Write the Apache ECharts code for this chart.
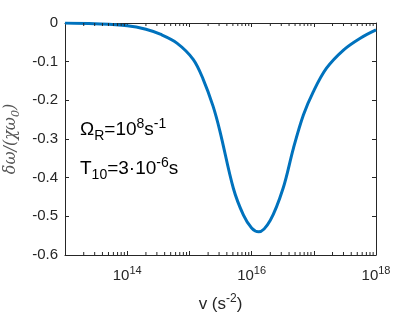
<!DOCTYPE html>
<html><head><meta charset="utf-8">
<script src="https://cdn.jsdelivr.net/npm/echarts@6/dist/echarts.min.js"></script>
<style>html,body{margin:0;padding:0;background:#fff}#c{width:415px;height:312px}</style>
</head><body><div id="c"></div>
<script>
// Data: accel v (s^-2), normalized shift
const vValues = [1e13, 3e13, 1e14, 2e14, 3.4e14, 6.3e14, 1.15e15, 1.66e15, 2.4e15, 3.1e15, 5.1e15, 7.4e15, 1.0e16, 1.3e16, 2.0e16, 3.2e16, 4.7e16, 6.8e16, 9.8e16, 1.6e17, 3.0e17, 5.5e17, 1e18];
const shiftValues = [0, -0.002, -0.007, -0.016, -0.029, -0.052, -0.094, -0.145, -0.215, -0.28, -0.428, -0.497, -0.53, -0.54, -0.51, -0.428, -0.324, -0.238, -0.178, -0.117, -0.07, -0.04, -0.018];
const xLabelExps = [14, 16, 18];
const minorMult = [2, 3, 4, 5, 6, 7, 8, 9];
const decades = [13, 14, 15, 16, 17];

const minorTicks = [];
decades.forEach(d => {
  minorMult.forEach(m => minorTicks.push(m * Math.pow(10, d)));
});

const axisColor = '#262626';
const chart = echarts.init(document.getElementById('c'));
const supRich = {
  b: {fontSize: 15, fontFamily: 'Liberation Sans', color: axisColor},
  s: {fontSize: 11, fontFamily: 'Liberation Sans', color: axisColor, padding: [0, 0, 10, 0]}
};
chart.setOption({
  animation: false,
  grid: {left: 65, right: 39, top: 23, bottom: 57, show: false, containLabel: false, outerBoundsMode: 'none'},
  xAxis: [{
    type: 'log', logBase: 10, min: 1e13, max: 1e18,
    position: 'bottom',
    axisLine: {show: true, onZero: false, lineStyle: {color: axisColor, width: 1}},
    axisTick: {show: true, inside: true, length: 4, lineStyle: {color: axisColor}},
    minorTick: {show: false},
    splitLine: {show: false},
    axisLabel: {
      margin: 10,
      formatter: function (v) {
        const e = Math.round(Math.log10(v));
        return xLabelExps.indexOf(e) >= 0 ? '{b|10}{s|' + e + '}' : '';
      },
      rich: supRich
    },
    name: '{b|v (s}{s|-2}{b|)}',
    nameLocation: 'middle', nameGap: 38,
    nameTextStyle: {
      rich: {
        b: {fontSize: 17, fontFamily: 'Liberation Sans', color: axisColor},
        s: {fontSize: 12, fontFamily: 'Liberation Sans', color: axisColor, padding: [0, 0, 10, 0]}
      }
    }
  }, {
    type: 'log', logBase: 10, min: 1e13, max: 1e18, position: 'top',
    axisLine: {show: true, onZero: false, lineStyle: {color: axisColor, width: 1}},
    axisTick: {show: true, inside: true, length: 4, lineStyle: {color: axisColor}},
    axisLabel: {show: false}, splitLine: {show: false}
  }],
  yAxis: [{
    type: 'value', min: -0.6, max: 0, interval: 0.1, position: 'left',
    axisLine: {show: true, onZero: false, lineStyle: {color: axisColor, width: 1}},
    axisTick: {show: true, inside: true, length: 4, lineStyle: {color: axisColor}},
    splitLine: {show: false},
    axisLabel: {
      margin: 7, fontSize: 15, fontFamily: 'Liberation Sans', color: axisColor,
      formatter: function (v) { return v === 0 ? '0' : v.toFixed(1); }
    },
    name: '{b|δω/(χω}{s|0}{b|)}',
    nameLocation: 'middle', nameGap: 42, nameRotate: 90,
    nameTextStyle: {
      rich: {
        b: {fontSize: 16, fontFamily: 'DejaVu Serif', fontStyle: 'italic', color: '#555'},
        s: {fontSize: 11, fontFamily: 'DejaVu Serif', fontStyle: 'italic', color: '#555', padding: [9, 0, 0, 0]}
      }
    }
  }, {
    type: 'value', min: -0.6, max: 0, interval: 0.1, position: 'right',
    axisLine: {show: true, onZero: false, lineStyle: {color: axisColor, width: 1}},
    axisTick: {show: true, inside: true, length: 4, lineStyle: {color: axisColor}},
    axisLabel: {show: false}, splitLine: {show: false}
  }],
  series: [{
    type: 'line',
    data: vValues.map((v, i) => [v, shiftValues[i]]),
    smooth: 0.35,
    showSymbol: false,
    lineStyle: {color: '#0072BD', width: 3},
    z: 3
  }, {
    type: 'custom',
    data: minorTicks,
    clip: false,
    z: 4,
    encode: {x: 0},
    renderItem: function (params, api) {
      const x = api.value(0);
      const pb = api.coord([x, -0.6]);
      const pt = api.coord([x, 0]);
      return {
        type: 'group',
        children: [
          {type: 'line', shape: {x1: pb[0], y1: pb[1], x2: pb[0], y2: pb[1] - 3}, style: {stroke: axisColor, lineWidth: 1}},
          {type: 'line', shape: {x1: pt[0], y1: pt[1], x2: pt[0], y2: pt[1] + 3}, style: {stroke: axisColor, lineWidth: 1}}
        ]
      };
    }
  }],
  graphic: [{
    type: 'text', left: 80, top: 117,
    style: {
      text: '{m|Ω}{sub|R}{m|=10}{sup|8}{m|s}{sup|-1}',
      rich: {
        m: {fontSize: 19, fontFamily: 'Liberation Sans', fill: '#000'},
        sub: {fontSize: 14, fontFamily: 'Liberation Sans', fill: '#000', padding: [12, 0, 0, 0]},
        sup: {fontSize: 14, fontFamily: 'Liberation Sans', fill: '#000', padding: [0, 0, 12, 0]}
      }
    }
  }, {
    type: 'text', left: 80, top: 156,
    style: {
      text: '{m|T}{sub|10}{m|=3·10}{sup|-6}{m|s}',
      rich: {
        m: {fontSize: 19, fontFamily: 'Liberation Sans', fill: '#000'},
        sub: {fontSize: 14, fontFamily: 'Liberation Sans', fill: '#000', padding: [12, 0, 0, 0]},
        sup: {fontSize: 14, fontFamily: 'Liberation Sans', fill: '#000', padding: [0, 0, 12, 0]}
      }
    }
  }]
});
</script></body></html>
